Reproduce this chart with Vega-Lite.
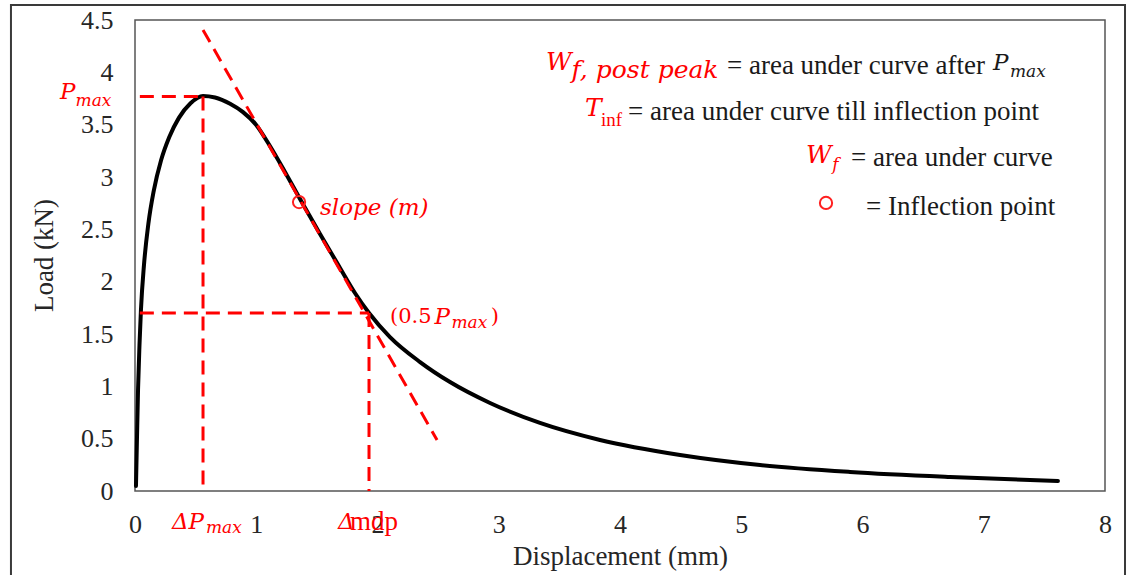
{
  "$schema": "https://vega.github.io/schema/vega-lite/v6.json",
  "width": 970,
  "height": 471,
  "autosize": {"type": "none"},
  "padding": {"left": 135, "top": 20, "right": 26, "bottom": 84},
  "background": "white",
  "config": {
    "view": {"stroke": "#555555", "strokeWidth": 1.5},
    "axis": {"grid": false, "ticks": false, "domain": false}
  },
  "datasets": {
    "curve": [
      {"x": 0.008, "y": 0.048}, {"x": 0.016, "y": 0.487}, {"x": 0.025, "y": 0.965},
      {"x": 0.037, "y": 1.395}, {"x": 0.049, "y": 1.729}, {"x": 0.074, "y": 2.159},
      {"x": 0.11, "y": 2.55}, {"x": 0.155, "y": 2.87}, {"x": 0.215, "y": 3.16},
      {"x": 0.282, "y": 3.38}, {"x": 0.362, "y": 3.565}, {"x": 0.458, "y": 3.705},
      {"x": 0.561, "y": 3.774}, {"x": 0.66, "y": 3.76}, {"x": 0.784, "y": 3.7},
      {"x": 0.891, "y": 3.62}, {"x": 0.998, "y": 3.5}, {"x": 1.113, "y": 3.296},
      {"x": 1.237, "y": 3.048}, {"x": 1.361, "y": 2.79}, {"x": 1.526, "y": 2.455},
      {"x": 1.691, "y": 2.131}, {"x": 1.814, "y": 1.892}, {"x": 1.93, "y": 1.701},
      {"x": 2.103, "y": 1.471}, {"x": 2.351, "y": 1.232}, {"x": 2.598, "y": 1.041},
      {"x": 2.928, "y": 0.841}, {"x": 3.34, "y": 0.65}, {"x": 3.835, "y": 0.487},
      {"x": 4.495, "y": 0.344}, {"x": 5.155, "y": 0.248}, {"x": 5.897, "y": 0.182},
      {"x": 6.722, "y": 0.134}, {"x": 7.612, "y": 0.096}
    ],
    "guides": [
      {"x": 0.04, "y": 3.77, "x2": 0.561, "y2": 3.77},
      {"x": 0.561, "y": 3.77, "x2": 0.561, "y2": 0},
      {"x": 0.04, "y": 1.7, "x2": 1.93, "y2": 1.7},
      {"x": 1.93, "y": 1.7, "x2": 1.93, "y2": 0},
      {"x": 0.561, "y": 4.405, "x2": 2.491, "y2": 0.487}
    ],
    "points": [
      {"x": 1.353, "y": 2.761},
      {"x": 5.699, "y": 2.752}
    ],
    "frame": [
      {"x": -1.023, "x2": 8.165, "y": 4.643, "y2": -0.86}
    ],
    "notes": [
      {"kind": "math", "x": -0.619, "y": 3.812, "text": "P"},
      {"kind": "sub", "x": -0.49, "y": 3.726, "text": "max"},
      {"kind": "math", "x": 0.305, "y": -0.296, "text": "ΔP"},
      {"kind": "sub", "x": 0.585, "y": -0.353, "text": "max"},
      {"kind": "math", "x": 1.674, "y": -0.296, "text": "Δ"},
      {"kind": "red", "x": 1.773, "y": -0.296, "text": "mdp"},
      {"kind": "math", "x": 1.526, "y": 2.704, "text": "slope (m)"},
      {"kind": "redup", "x": 2.103, "y": 1.662, "text": "(0.5"},
      {"kind": "math", "x": 2.47, "y": 1.662, "text": "P"},
      {"kind": "sub", "x": 2.61, "y": 1.605, "text": "max"},
      {"kind": "redup", "x": 2.935, "y": 1.662, "text": ")"},
      {"kind": "mathbig", "x": 3.39, "y": 4.099, "text": "W"},
      {"kind": "mathbig", "x": 3.6, "y": 4.022, "text": "f, post peak"},
      {"kind": "black", "x": 4.882, "y": 4.06, "text": "= area under curve after"},
      {"kind": "bmath", "x": 7.076, "y": 4.089, "text": "P"},
      {"kind": "bsub", "x": 7.216, "y": 4.003, "text": "max"},
      {"kind": "mathbig", "x": 3.711, "y": 3.659, "text": "T"},
      {"kind": "redsmall", "x": 3.843, "y": 3.545, "text": "inf"},
      {"kind": "black", "x": 4.066, "y": 3.621, "text": "= area under curve till inflection point"},
      {"kind": "mathbig", "x": 5.534, "y": 3.21, "text": "W"},
      {"kind": "sub", "x": 5.75, "y": 3.115, "text": "f"},
      {"kind": "black", "x": 5.905, "y": 3.181, "text": "= area under curve"},
      {"kind": "black", "x": 6.029, "y": 2.713, "text": "= Inflection point"}
    ]
  },
  "layer": [
    {
      "data": {"name": "curve"},
      "mark": {"type": "line", "color": "#000000", "strokeWidth": 4, "interpolate": "monotone", "strokeCap": "round"},
      "encoding": {
        "x": {
          "field": "x", "type": "quantitative",
          "scale": {"domain": [0, 8], "nice": false, "zero": false},
          "axis": {
            "title": "Displacement (mm)", "values": [0, 1, 2, 3, 4, 5, 6, 7, 8],
            "labelExpr": "'' + datum.value",
            "labelFont": "Liberation Serif", "labelFontSize": 26, "labelColor": "#262626",
            "labelBaseline": "middle", "labelPadding": 33, "labelFlush": false,
            "titleFont": "Liberation Serif", "titleFontSize": 27, "titleFontWeight": "normal", "titleColor": "#262626",
            "titleBaseline": "middle", "titleY": 65, "titleX": 485
          }
        },
        "y": {
          "field": "y", "type": "quantitative",
          "scale": {"domain": [0, 4.5], "nice": false, "zero": false},
          "axis": {
            "title": "Load (kN)", "values": [0, 0.5, 1, 1.5, 2, 2.5, 3, 3.5, 4, 4.5],
            "labelExpr": "'' + datum.value",
            "labelFont": "Liberation Serif", "labelFontSize": 26, "labelColor": "#262626",
            "labelPadding": 22, "labelFlush": false,
            "titleFont": "Liberation Serif", "titleFontSize": 27, "titleFontWeight": "normal", "titleColor": "#262626",
            "titleBaseline": "middle", "titleX": -91, "titleY": 235, "titleAngle": -90
          }
        }
      }
    },
    {
      "data": {"name": "frame"},
      "mark": {"type": "rect", "filled": false, "stroke": "#3a3a3a", "strokeWidth": 2},
      "encoding": {
        "x": {"field": "x", "type": "quantitative"},
        "x2": {"field": "x2"},
        "y": {"field": "y", "type": "quantitative"},
        "y2": {"field": "y2"}
      }
    },
    {
      "data": {"name": "guides"},
      "mark": {"type": "rule", "color": "#ff0000", "strokeWidth": 3, "strokeDash": [14, 8]},
      "encoding": {
        "x": {"field": "x", "type": "quantitative"},
        "y": {"field": "y", "type": "quantitative"},
        "x2": {"field": "x2"},
        "y2": {"field": "y2"}
      }
    },
    {
      "data": {"name": "points"},
      "mark": {"type": "point", "shape": "circle", "filled": false, "stroke": "#ff2020", "strokeWidth": 2, "size": 150, "opacity": 1},
      "encoding": {
        "x": {"field": "x", "type": "quantitative"},
        "y": {"field": "y", "type": "quantitative"}
      }
    },
    {
      "data": {"name": "notes"},
      "transform": [{"filter": "datum.kind === 'math'"}],
      "mark": {"type": "text", "align": "left", "baseline": "middle", "font": "DejaVu Serif", "fontStyle": "italic", "fontSize": 23, "color": "#ff0000"},
      "encoding": {
        "x": {"field": "x", "type": "quantitative"},
        "y": {"field": "y", "type": "quantitative"},
        "text": {"field": "text"}
      }
    },
    {
      "data": {"name": "notes"},
      "transform": [{"filter": "datum.kind === 'mathbig'"}],
      "mark": {"type": "text", "align": "left", "baseline": "middle", "font": "DejaVu Serif", "fontStyle": "italic", "fontSize": 25, "color": "#ff0000"},
      "encoding": {
        "x": {"field": "x", "type": "quantitative"},
        "y": {"field": "y", "type": "quantitative"},
        "text": {"field": "text"}
      }
    },
    {
      "data": {"name": "notes"},
      "transform": [{"filter": "datum.kind === 'sub'"}],
      "mark": {"type": "text", "align": "left", "baseline": "middle", "font": "DejaVu Serif", "fontStyle": "italic", "fontSize": 17, "color": "#ff0000"},
      "encoding": {
        "x": {"field": "x", "type": "quantitative"},
        "y": {"field": "y", "type": "quantitative"},
        "text": {"field": "text"}
      }
    },
    {
      "data": {"name": "notes"},
      "transform": [{"filter": "datum.kind === 'red'"}],
      "mark": {"type": "text", "align": "left", "baseline": "middle", "font": "Liberation Serif", "fontSize": 27, "color": "#ff0000"},
      "encoding": {
        "x": {"field": "x", "type": "quantitative"},
        "y": {"field": "y", "type": "quantitative"},
        "text": {"field": "text"}
      }
    },
    {
      "data": {"name": "notes"},
      "transform": [{"filter": "datum.kind === 'redsmall'"}],
      "mark": {"type": "text", "align": "left", "baseline": "middle", "font": "Liberation Serif", "fontSize": 19, "color": "#ff0000"},
      "encoding": {
        "x": {"field": "x", "type": "quantitative"},
        "y": {"field": "y", "type": "quantitative"},
        "text": {"field": "text"}
      }
    },
    {
      "data": {"name": "notes"},
      "transform": [{"filter": "datum.kind === 'redup'"}],
      "mark": {"type": "text", "align": "left", "baseline": "middle", "font": "DejaVu Serif", "fontSize": 21, "color": "#ff0000"},
      "encoding": {
        "x": {"field": "x", "type": "quantitative"},
        "y": {"field": "y", "type": "quantitative"},
        "text": {"field": "text"}
      }
    },
    {
      "data": {"name": "notes"},
      "transform": [{"filter": "datum.kind === 'black'"}],
      "mark": {"type": "text", "align": "left", "baseline": "middle", "font": "Liberation Serif", "fontSize": 27, "color": "#1a1a1a"},
      "encoding": {
        "x": {"field": "x", "type": "quantitative"},
        "y": {"field": "y", "type": "quantitative"},
        "text": {"field": "text"}
      }
    },
    {
      "data": {"name": "notes"},
      "transform": [{"filter": "datum.kind === 'bmath'"}],
      "mark": {"type": "text", "align": "left", "baseline": "middle", "font": "DejaVu Serif", "fontStyle": "italic", "fontSize": 23, "color": "#1a1a1a"},
      "encoding": {
        "x": {"field": "x", "type": "quantitative"},
        "y": {"field": "y", "type": "quantitative"},
        "text": {"field": "text"}
      }
    },
    {
      "data": {"name": "notes"},
      "transform": [{"filter": "datum.kind === 'bsub'"}],
      "mark": {"type": "text", "align": "left", "baseline": "middle", "font": "DejaVu Serif", "fontStyle": "italic", "fontSize": 17, "color": "#1a1a1a"},
      "encoding": {
        "x": {"field": "x", "type": "quantitative"},
        "y": {"field": "y", "type": "quantitative"},
        "text": {"field": "text"}
      }
    }
  ]
}
